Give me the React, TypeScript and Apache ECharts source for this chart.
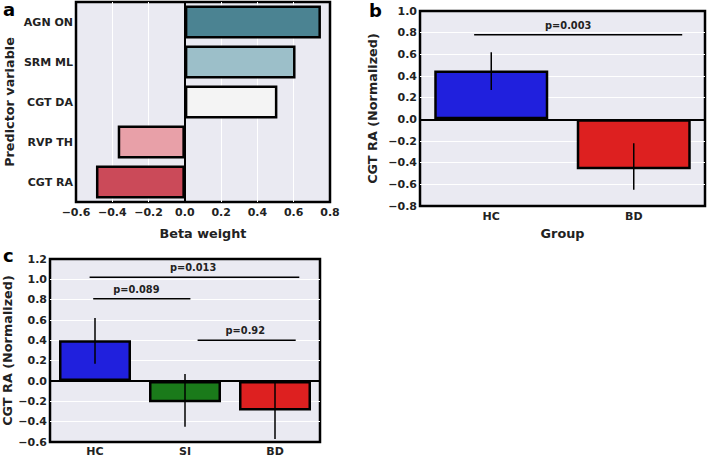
import React, { useEffect, useRef } from 'react';
import * as echarts from 'echarts';

// Panel a
const predictors = ['AGN ON', 'SRM ML', 'CGT DA', 'RVP TH', 'CGT RA'];
const betaWeights = [0.75, 0.61, 0.51, -0.37, -0.49];
const predictorColors = ['#4B8392', '#9CBFC9', '#F4F4F4', '#E8A0A8', '#CB4A59'];

// Panel b
const groupsB = ['HC', 'BD'];
const meansB = [0.45, -0.46];
const errLowB = [0.27, -0.65];
const errHighB = [0.62, -0.22];
const colorsB = ['#2020DD', '#DD2020'];
// from / to / labelAt are in category units (0 = first group centre)
const pLinesB = [{ from: -0.12, to: 1.34, labelAt: 0.54, y: 0.78, label: 'p=0.003' }];

// Panel c
const groupsC = ['HC', 'SI', 'BD'];
const meansC = [0.4, -0.21, -0.29];
const errLowC = [0.17, -0.45, -0.57];
const errHighC = [0.62, 0.07, -0.01];
const colorsC = ['#2020DD', '#1A7A1A', '#DD2020'];
const pLinesC = [
  { from: -0.06, to: 2.27, labelAt: 1.09, y: 1.02, label: 'p=0.013' },
  { from: -0.02, to: 1.06, labelAt: 0.46, y: 0.81, label: 'p=0.089' },
  { from: 1.14, to: 2.23, labelAt: 1.67, y: 0.4, label: 'p=0.92' },
];

const FONT = 'DejaVu Sans';
const TEXT = '#222';
const tickLabel = { fontFamily: FONT, fontWeight: 'bold' as const, fontSize: 11, color: TEXT };
const nameStyle = { fontFamily: FONT, fontWeight: 'bold' as const, fontSize: 12.8, color: TEXT };
const fmt = (v: number) => (Math.abs(v) < 1e-9 ? '0.0' : (v < 0 ? '\u2212' : '') + Math.abs(v).toFixed(1));

const gridStyle = { show: true, backgroundColor: '#EAEAF2', borderColor: '#000', borderWidth: 2.5 };
const whiteSplit = { show: true, showMinLine: false, showMaxLine: false, lineStyle: { color: '#FFFFFF', width: 1 } };
const noLine = { show: false };

function zeroLine(axis: 'xAxis' | 'yAxis') {
  return {
    silent: true,
    symbol: 'none',
    label: { show: false },
    lineStyle: { color: '#000', width: 2, type: 'solid' },
    data: [{ [axis]: 0 }],
  };
}

function errorSeries(idx: number, lows: number[], highs: number[]) {
  return {
    type: 'custom',
    xAxisIndex: idx,
    yAxisIndex: idx,
    z: 10,
    data: lows.map((l, i) => [i, l, highs[i]]),
    encode: { x: 0, y: [1, 2] },
    renderItem: (params: any, api: any) => {
      const lo = api.coord([api.value(0), api.value(1)]);
      const hi = api.coord([api.value(0), api.value(2)]);
      return {
        type: 'line',
        shape: { x1: lo[0], y1: lo[1], x2: hi[0], y2: hi[1] },
        style: { stroke: '#000', lineWidth: 1.5 },
      };
    },
  };
}

type PLine = { from: number; to: number; labelAt: number; y: number; label: string };

function pSeries(idx: number, lines: PLine[]) {
  return {
    type: 'custom',
    xAxisIndex: idx,
    yAxisIndex: idx,
    z: 10,
    data: lines.map((p) => [0, p.y, p.from, p.to, p.labelAt]),
    encode: { x: 0, y: 1 },
    renderItem: (params: any, api: any) => {
      const base = api.coord([0, api.value(1)]);
      const bw = api.size([1, 0])[0];
      const x1 = base[0] + api.value(2) * bw;
      const x2 = base[0] + api.value(3) * bw;
      const xl = base[0] + api.value(4) * bw;
      const y = base[1];
      return {
        type: 'group',
        children: [
          { type: 'line', shape: { x1, y1: y, x2, y2: y }, style: { stroke: '#000', lineWidth: 1.5 } },
          {
            type: 'text',
            x: xl,
            y: y - 4.5,
            style: {
              text: lines[params.dataIndex].label,
              align: 'center',
              verticalAlign: 'bottom',
              fontFamily: FONT,
              fontWeight: 'bold',
              fontSize: 9.8,
              fill: TEXT,
            },
          },
        ],
      };
    },
  };
}

export default function App() {
  const ref = useRef<HTMLDivElement>(null);
  useEffect(() => {
    if (!ref.current) return;
    const chart = echarts.init(ref.current, undefined, { renderer: 'svg' });
    const letter = { fontFamily: FONT, fontWeight: 'bold', fontSize: 18, fill: '#000' };
    const option: any = {
      animation: false,
      backgroundColor: '#FFFFFF',
      grid: [
        { ...gridStyle, left: 76, top: 2, width: 254, height: 200 },
        { ...gridStyle, left: 420, top: 11, width: 285, height: 195 },
        { ...gridStyle, left: 50, top: 259, width: 270, height: 184 },
      ],
      xAxis: [
        {
          gridIndex: 0, type: 'value', min: -0.6, max: 0.8, interval: 0.2,
          axisLine: noLine, axisTick: noLine, splitLine: whiteSplit,
          axisLabel: { ...tickLabel, formatter: fmt, margin: 5 },
          name: 'Beta weight', nameLocation: 'middle', nameGap: 25, nameTextStyle: nameStyle,
        },
        {
          gridIndex: 1, type: 'category', data: groupsB,
          axisLine: noLine, axisTick: noLine, splitLine: noLine,
          axisLabel: { ...tickLabel, margin: 5 },
          name: 'Group', nameLocation: 'middle', nameGap: 21, nameTextStyle: nameStyle,
        },
        {
          gridIndex: 2, type: 'category', data: groupsC,
          axisLine: noLine, axisTick: noLine, splitLine: noLine,
          axisLabel: { ...tickLabel, margin: 4 },
        },
      ],
      yAxis: [
        {
          gridIndex: 0, type: 'category', data: predictors, inverse: true,
          axisLine: noLine, axisTick: noLine, splitLine: noLine,
          axisLabel: { ...tickLabel, margin: 3 },
          name: 'Predictor variable', nameLocation: 'middle', nameGap: 60, nameTextStyle: nameStyle,
        },
        {
          gridIndex: 1, type: 'value', min: -0.8, max: 1.0, interval: 0.2,
          axisLine: noLine, axisTick: noLine, splitLine: whiteSplit,
          axisLabel: { ...tickLabel, formatter: fmt, margin: 3 },
          name: 'CGT RA (Normalized)', nameLocation: 'middle', nameGap: 41, nameTextStyle: nameStyle,
        },
        {
          gridIndex: 2, type: 'value', min: -0.6, max: 1.2, interval: 0.2,
          axisLine: noLine, axisTick: noLine, splitLine: whiteSplit,
          axisLabel: { ...tickLabel, formatter: fmt, margin: 3 },
          name: 'CGT RA (Normalized)', nameLocation: 'middle', nameGap: 30, nameTextStyle: nameStyle,
        },
      ],
      series: [
        {
          type: 'bar', xAxisIndex: 0, yAxisIndex: 0, barWidth: '82%',
          data: betaWeights.map((v, i) => ({ value: v, itemStyle: { color: predictorColors[i] } })),
          itemStyle: { borderColor: '#000', borderWidth: 2.5 },
          markLine: zeroLine('xAxis'),
        },
        {
          type: 'bar', xAxisIndex: 1, yAxisIndex: 1, barWidth: '80%',
          data: meansB.map((v, i) => ({ value: v, itemStyle: { color: colorsB[i] } })),
          itemStyle: { borderColor: '#000', borderWidth: 2.5 },
          markLine: zeroLine('yAxis'),
        },
        {
          type: 'bar', xAxisIndex: 2, yAxisIndex: 2, barWidth: '80%',
          data: meansC.map((v, i) => ({ value: v, itemStyle: { color: colorsC[i] } })),
          itemStyle: { borderColor: '#000', borderWidth: 2.5 },
          markLine: zeroLine('yAxis'),
        },
        errorSeries(1, errLowB, errHighB),
        errorSeries(2, errLowC, errHighC),
        pSeries(1, pLinesB),
        pSeries(2, pLinesC),
      ],
      graphic: [
        { type: 'text', left: 3, top: 0, style: { text: 'a', ...letter } },
        { type: 'text', left: 369, top: 1, style: { text: 'b', ...letter } },
        { type: 'text', left: 3, top: 246, style: { text: 'c', ...letter } },
      ],
    };
    chart.setOption(option);
    return () => chart.dispose();
  }, []);
  return (
    <div
      ref={ref}
      style={{ position: 'fixed', left: 0, top: 0, width: 709, height: 457, background: '#fff' }}
    />
  );
}
